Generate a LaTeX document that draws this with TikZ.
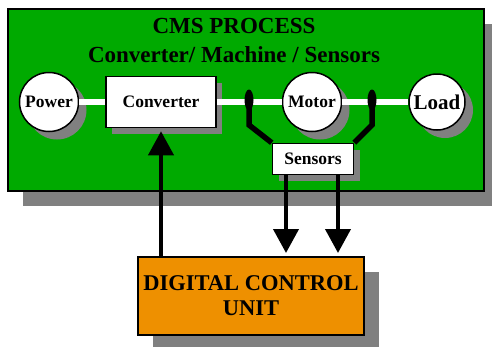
\documentclass[tikz,border=0pt]{standalone}
\usepackage{fontspec}
\setmainfont{Liberation Serif}
\usetikzlibrary{shapes.geometric, arrows.meta, shadows}
\definecolor{procgreen}{HTML}{00AA00}
\definecolor{dcuorange}{HTML}{EE9000}
\definecolor{shadowgray}{HTML}{808080}

\begin{document}
\begin{tikzpicture}[
  x=1pt, y=-1pt,
  castshadow/.style={drop shadow={shadow xshift=#1, shadow yshift=-#1,
                     fill=shadowgray, opacity=1}},
  process/.style={rectangle, draw, line width=2.5pt, fill=procgreen,
                  inner sep=0pt, castshadow=15pt},
  title/.style={anchor=base, font=\fontsize{23}{28.5}\selectfont\bfseries},
  unit/.style={circle, draw, line width=1.5pt, fill=white, minimum size=59pt,
               inner sep=0pt, font=\fontsize{17.5}{20}\selectfont\bfseries,
               castshadow=8pt},
  block/.style={rectangle, draw, line width=1.5pt, fill=white, inner sep=0pt,
                font=\fontsize{17.5}{20}\selectfont\bfseries, castshadow=6pt},
  dcu/.style={rectangle, draw, line width=2pt, fill=dcuorange, align=center,
              inner sep=0pt, font=\fontsize{22.5}{25}\selectfont\bfseries,
              castshadow=15pt},
  tap/.style={ellipse, fill=black, minimum width=9pt, minimum height=21pt,
              inner sep=0pt},
  wire/.style={white, line width=6.5pt},
  probe/.style={line width=5.5pt},
  arr/.style={-{Triangle[length=24pt, width=25pt]}, line width=4pt,
              shorten >=3pt}
]
  \useasboundingbox (0,0) rectangle (492,346);

  % process frame and heading
  \node[process, minimum width=476pt, minimum height=182pt] (cms) at (246,100) {};
  \node[title] (ttl) at (234,33) {CMS PROCESS};
  \node[title] (subttl) at (234,62) {Converter/ Machine / Sensors};

  % power chain
  \node[unit] (power) at (49,102) {Power};
  \node[block, minimum width=110pt, minimum height=51pt] (conv) at (161,102) {Converter};
  \node[unit] (motor) at (312,102) {Motor};
  \node[unit, minimum size=56pt, font=\fontsize{21}{24}\selectfont\bfseries] (load) at (437,102) {Load};

  \draw[wire] (power) -- (conv);
  \draw[wire] (conv) -- (motor);
  \draw[wire] (motor) -- (load);

  % measuring points and sensors
  \node[tap] (tapl) at (249,100) {};
  \node[tap] (tapr) at (372,100) {};
  \node[block, minimum width=81pt, minimum height=31pt] (sens) at (313,159) {Sensors};

  \draw[probe] (tapl.center) -- ++(0,25) -- (sens.north west);
  \draw[probe] (tapr.center) -- ++(0,25) -- (sens.north east);

  % controller
  \node[dcu, minimum width=226pt, minimum height=78pt] (ctrl) at (251,296) {DIGITAL CONTROL\\UNIT};

  \draw[arr] (conv.south |- ctrl.north) -- (conv.south);
  \draw[arr] ([xshift=-27pt]sens.south) -- ([xshift=-27pt]sens.south |- ctrl.north);
  \draw[arr] ([xshift=25pt]sens.south) -- ([xshift=25pt]sens.south |- ctrl.north);
\end{tikzpicture}
\end{document}
